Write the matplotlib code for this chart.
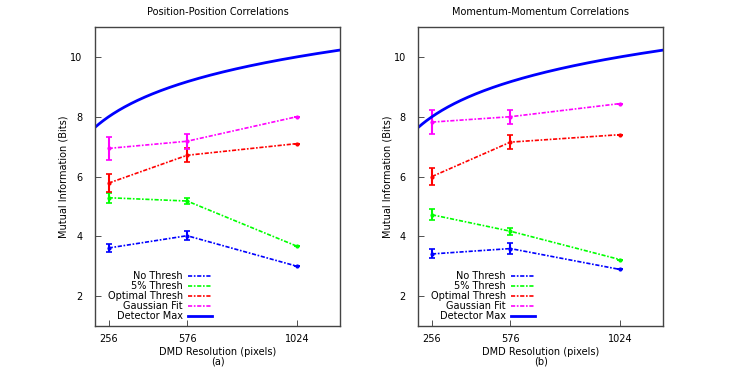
import numpy as np
import matplotlib
matplotlib.use("Agg")
import matplotlib.pyplot as plt
from matplotlib.lines import Line2D

# DMD resolutions
resolution = [256, 576, 1024]

# (a) position-position correlations
pos_no_thresh = [3.61, 4.02, 3.00]
pos_no_thresh_err = [0.14, 0.16, 0.0]
pos_5pct = [5.29, 5.18, 3.67]
pos_5pct_err = [0.17, 0.10, 0.0]
pos_optimal = [5.78, 6.71, 7.10]
pos_optimal_err = [0.30, 0.24, 0.0]
pos_gauss = [6.94, 7.18, 8.00]
pos_gauss_err = [0.38, 0.25, 0.0]

# (b) momentum-momentum correlations
mom_no_thresh = [3.41, 3.59, 2.89]
mom_no_thresh_err = [0.15, 0.17, 0.0]
mom_5pct = [4.72, 4.17, 3.22]
mom_5pct_err = [0.19, 0.12, 0.0]
mom_optimal = [6.00, 7.15, 7.40]
mom_optimal_err = [0.30, 0.23, 0.0]
mom_gauss = [7.82, 8.00, 8.44]
mom_gauss_err = [0.39, 0.24, 0.0]

labels = ["No Thresh", "5% Thresh", "Optimal Thresh", "Gaussian Fit"]
colors = ["#0000ff", "#00ff00", "#ff0000", "#ff00ff"]
dash = (2.5, 1.0, 1, 1.0)

plt.rcParams['font.family'] = 'DejaVu Sans'
plt.rcParams['font.size'] = 7

fig = plt.figure(figsize=(7.34, 3.67), dpi=100)


def draw_panel(ax, series, errs, title, tag):
    # theoretical detector limit, log2 of pixel count
    xs = np.linspace(200, 1200, 300)
    handles = []
    for vals, err, lab, col in zip(series, errs, labels, colors):
        ax.errorbar(resolution, vals, yerr=err, color=col, lw=1.2,
                    dashes=dash, marker='o', markersize=2,
                    elinewidth=1.5, capsize=2, capthick=1.2)
        handles.append(Line2D([], [], color=col, lw=1.2, dashes=dash))
    ax.plot(xs, np.log2(xs), color="#0000ff", lw=2)
    handles.append(Line2D([], [], color="#0000ff", lw=2))

    ax.set_xlim(200, 1200)
    ax.set_ylim(1, 11)
    ax.set_xticks(resolution)
    ax.set_yticks([2, 4, 6, 8, 10])
    ax.tick_params(direction='in', length=4, width=0.6, colors='#333333',
                   labelcolor='black')
    ax.tick_params(axis='x', pad=6)
    ax.tick_params(axis='y', pad=9)
    for s in ax.spines.values():
        s.set_color('#444444')
        s.set_linewidth(1.0)
    ax.set_title(title, fontsize=7, pad=9)
    ax.set_xlabel("DMD Resolution (pixels)\n" + tag, fontsize=7,
                  labelpad=2, linespacing=0.9)
    ax.set_ylabel("Mutual Information (Bits)", fontsize=7, labelpad=1)

    ax.legend(handles, labels + ["Detector Max"], loc='lower left',
              bbox_to_anchor=(0.02, -0.01),
              markerfirst=False, frameon=False, fontsize=7,
              handlelength=2.5, handletextpad=0.5, labelspacing=0.0,
              borderpad=0.3)


ax1 = fig.add_axes([0.1294, 0.1117, 0.3338, 0.8147])
draw_panel(ax1,
           [pos_no_thresh, pos_5pct, pos_optimal, pos_gauss],
           [pos_no_thresh_err, pos_5pct_err, pos_optimal_err, pos_gauss_err],
           "Position-Position Correlations", "(a)")

ax2 = fig.add_axes([0.5699, 0.1117, 0.3338, 0.8147])
draw_panel(ax2,
           [mom_no_thresh, mom_5pct, mom_optimal, mom_gauss],
           [mom_no_thresh_err, mom_5pct_err, mom_optimal_err, mom_gauss_err],
           "Momentum-Momentum Correlations", "(b)")

fig.savefig("out.png", dpi=100)
